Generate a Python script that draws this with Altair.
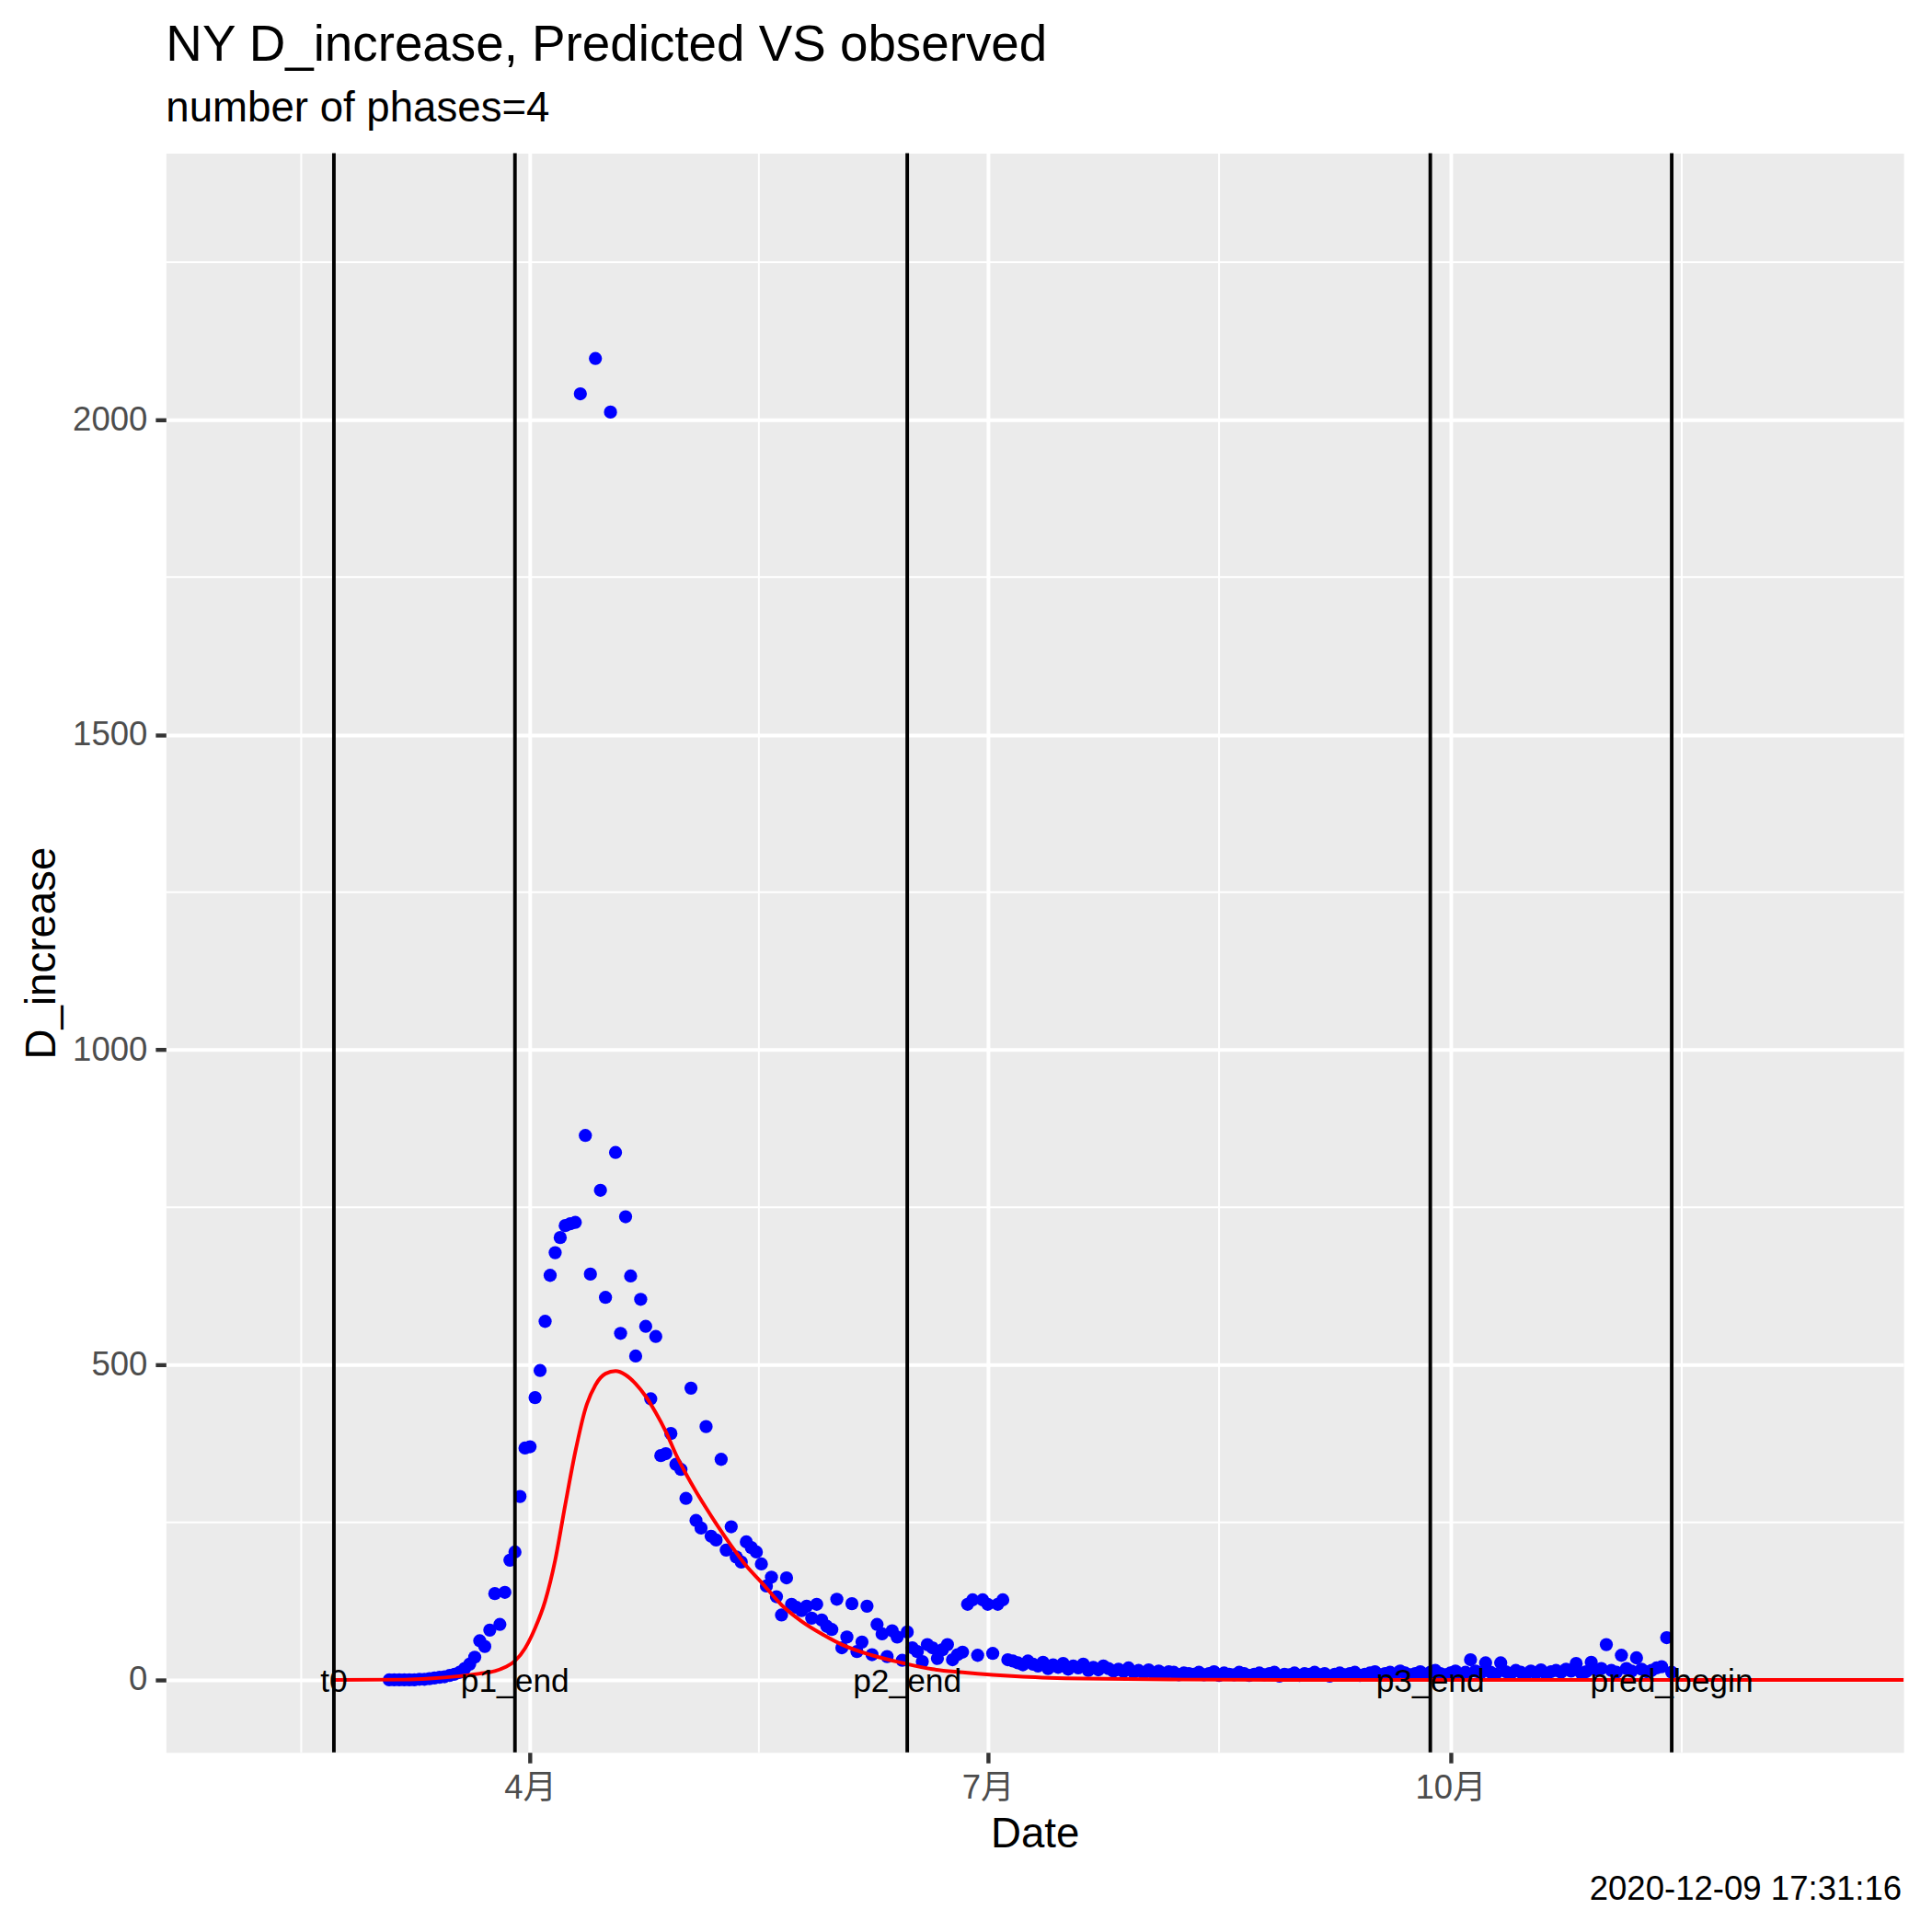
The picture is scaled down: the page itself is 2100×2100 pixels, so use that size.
import altair as alt
import pandas as pd

FONT = "Liberation Sans, Arial, Noto Sans CJK SC, sans-serif"

# observed daily deaths, first value is 2020-03-04
OBS_START = "2020-03-04"
obs_values = [
    0, 0, 0, 0, 0, 0, 1, 1, 2, 3, 4, 5, 7, 9, 12,          # Mar 4 - Mar 18
    18, 25, 36, 62, 53, 79, 137, 88, 139, 190, 203, 291, 368,  # Mar 19 - Mar 31
    370, 448, 491, 569, 642, 678, 702, 721, 724, 726,
    2041, 864, 644, 2097, 777, 607, 2012, 837, 550, 735,
    641, 514, 604, 561, 446, 545, 356, 359, 391, 342,
    334, 288, 463, 253, 241, 402, 228, 222, 350, 206,
    243, 195, 187, 219, 210, 203, 184, 149, 163, 132,
    103, 162, 120, 115, 110, 117, 98, 120, 95, 85,
    80, 128, 51, 68, 121, 45, 60, 117, 40, 88,
    73, 37, 78, 68, 31, 76, 51, 45, 29, 56,
    51, 34, 48, 56, 32, 40, 44, 120, 127, 39,
    127, 120, 42, 120, 127, 32, 30, 27, 24, 30,
    25, 22, 28, 18, 24, 20, 26, 17, 22, 19,
    25, 15, 20, 16, 22, 18, 14, 17, 13, 19,
    12, 15, 11, 16, 10, 14, 9, 13, 12, 8,
    11, 10, 9, 12, 8, 10, 13, 7, 11, 9,
    8, 12, 10, 7, 9, 11, 8, 10, 12, 6,
    9, 8, 11, 7, 10, 9, 12, 8, 10, 6,
    9, 11, 8, 10, 12, 7, 9, 11, 13, 8,
    10, 12, 9, 14, 11, 8, 10, 13, 9, 12,
    15, 10, 8, 11, 14, 9, 12, 32, 14, 11,
    27, 12, 9, 27, 13, 10, 15, 12, 9, 14,
    11, 16, 10, 13, 15, 12, 17, 14, 26, 11,
    13, 28, 16, 18, 56, 15, 12, 39, 18, 14,
    35, 17, 13, 15, 19, 21, 67, 12,
]

# predicted curve, days counted from 2020-04-01
pred_day = [-39, -25, -20, -14, -10, -7, -5, -3, -1, 1, 3, 5, 7, 9, 11, 13, 15,
            17, 19, 21, 23, 25, 27, 29, 31, 33, 35, 37, 40, 43, 46, 50, 54, 58,
            62, 68, 74, 80, 86, 92, 98, 110, 130, 150, 275]
pred_val = [0, 0.5, 2, 6, 10, 14, 20, 30, 50, 82, 125, 190, 278, 362, 430, 468, 486,
            490, 484, 470, 450, 424, 394, 358, 327, 299, 273, 248, 213, 181, 155, 119, 93, 73,
            56, 39, 27, 17, 12, 8, 5, 2, 0.5, 0, 0]

phase_names = ["t0", "p1_end", "p2_end", "p3_end", "pred_begin"]
phase_dates = ["2020-02-22", "2020-03-29", "2020-06-15", "2020-09-27", "2020-11-14"]

x_minor = ["2020-02-15T12:00:00Z", "2020-05-16T12:00:00Z",
           "2020-08-16T00:00:00Z", "2020-11-16T00:00:00Z"]
y_major = [0, 500, 1000, 1500, 2000]
y_minor = [250, 750, 1250, 1750, 2250]

caption = "2020-12-09 17:31:16"

obs = pd.DataFrame({
    "date": pd.date_range(OBS_START, periods=len(obs_values), freq="D").strftime("%Y-%m-%d"),
    "value": obs_values,
})
apr1 = pd.Timestamp("2020-04-01")
pred = pd.DataFrame({
    "date": [(apr1 + pd.Timedelta(days=d)).strftime("%Y-%m-%d") for d in pred_day],
    "value": pred_val,
})
phases = pd.DataFrame({"phase": phase_names, "date": phase_dates, "y0": 0})

x_scale = alt.Scale(
    type="utc", nice=False,
    domain=[alt.DateTime(year=2020, month=1, date=19, hours=14, minutes=24, utc=True),
            alt.DateTime(year=2020, month=12, date=30, hours=2, minutes=24, utc=True)],
)
y_scale = alt.Scale(domain=[-115, 2423], nice=False, zero=False)

x_axis = alt.Axis(
    title="Date",
    values=[alt.DateTime(year=2020, month=m, date=1, utc=True) for m in (4, 7, 10)],
    labelExpr="utcFormat(datum.value, '%-m') + '月'",
    titlePadding=10,
)
y_axis = alt.Axis(
    title="D_increase", values=y_major,
    labelExpr="'' + datum.value",
    titlePadding=9,
)


def xenc(field="date:T"):
    return alt.X(field, scale=x_scale, axis=x_axis)


def yenc(field="value:Q"):
    return alt.Y(field, scale=y_scale, axis=y_axis)


minor_x = alt.Chart(pd.DataFrame({"date": x_minor})).mark_rule(
    color="white", strokeWidth=2
).encode(x=xenc())

minor_y = alt.Chart(pd.DataFrame({"v": y_minor})).mark_rule(
    color="white", strokeWidth=2
).encode(y=yenc("v:Q"))

points = alt.Chart(obs).mark_point(
    filled=True, size=205, color="#0000FF", opacity=1
).encode(x=xenc(), y=yenc())

pred_line = alt.Chart(pred).mark_line(
    color="#FF0000", strokeWidth=4, interpolate="monotone", clip=True
).encode(x=xenc(), y=yenc())

vlines = alt.Chart(phases).mark_rule(color="black", strokeWidth=3.9).encode(x=xenc())

vlabels = alt.Chart(phases).mark_text(
    font=FONT, fontSize=35.5, color="black", align="center", baseline="middle", dy=2
).encode(x=xenc(), y=yenc("y0:Q"), text="phase:N")

cap = alt.Chart(pd.DataFrame({"t": [caption]})).mark_text(
    font=FONT, fontSize=36.7, color="black", align="right", baseline="alphabetic"
).encode(x=alt.value(1894), y=alt.value(1906), text="t:N")

chart = alt.layer(
    minor_x, minor_y, points, pred_line, vlines, vlabels, cap
).properties(
    width=1896,
    height=1745,
    padding={"left": 173, "top": 155, "right": 23, "bottom": 192},
    autosize=alt.AutoSizeParams(type="none"),
    title=alt.Title(
        "NY D_increase, Predicted VS observed",
        subtitle="number of phases=4",
        anchor="start", frame="group",
        font=FONT, fontSize=55, fontWeight="normal", color="black",
        subtitleFont=FONT, subtitleFontSize=45.8, subtitleColor="black",
        subtitlePadding=18, offset=23,
    ),
).configure_view(
    fill="#EBEBEB", stroke="transparent"
).configure_axis(
    grid=True, gridColor="white", gridWidth=4,
    domain=False,
    tickColor="#333333", tickSize=11.5, tickWidth=4.4,
    labelFont=FONT, labelFontSize=36.7, labelColor="#4D4D4D", labelPadding=9,
    titleFont=FONT, titleFontSize=45.8, titleColor="black", titleFontWeight="normal",
)

chart.save("out.html", embed_options={"renderer": "svg", "actions": False})
